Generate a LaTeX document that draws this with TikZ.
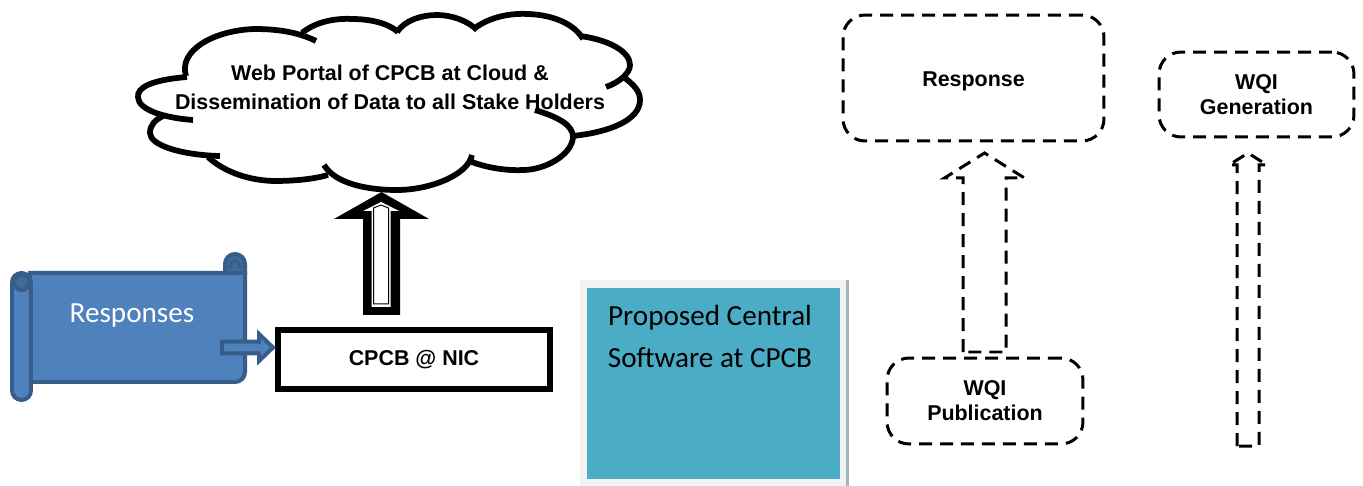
\documentclass[tikz,border=0pt]{standalone}
\usepackage{fontspec}
\setmainfont{Liberation Sans}
\newfontfamily\calibrifont{Carlito}
\usetikzlibrary{calc,positioning}
\definecolor{scrollblue}{HTML}{4F81BD}
\definecolor{scrolledge}{HTML}{385D8A}
\definecolor{scrolldark}{HTML}{41699B}
\definecolor{softwareteal}{HTML}{4BACC6}
\definecolor{softwarepale}{HTML}{F2F2F2}
\definecolor{softwareedge}{HTML}{9DB7BD}

% from, to, half shaft, half head, head length
\newcommand{\blockarrow}[6][]{%
  \coordinate (neck) at ($(#3)!#6!(#2)$);
  \path[#1] ($(#2)!#4!90:(#3)$) -- ($(neck)!#4!90:(#3)$) -- ($(neck)!#5!90:(#3)$) -- (#3)
    -- ($(neck)!#5!-90:(#3)$) -- ($(neck)!#4!-90:(#3)$) -- ($(#2)!#4!-90:(#3)$) -- cycle;
}

\tikzset{
  cloudline/.style={draw=black, line width=0.115cm, line cap=butt},
  boldtext/.style={font=\fontsize{12.2}{14.2}\selectfont\bfseries, align=center},
  scrollline/.style={draw=scrolledge, line width=0.08cm},
  nicbox/.style={draw=black, line width=0.12cm, fill=white, minimum width=5.44cm, minimum height=1.2cm, inner sep=0pt},
  dashbox/.style={draw=black, line width=0.06cm, dash pattern=on 0.26cm off 0.16cm, rounded corners=0.44cm, inner sep=0pt},
  dasharrow/.style={draw=black, line width=0.06cm, dash pattern=on 0.26cm off 0.16cm},
  tealbox/.style={fill=softwareteal, draw=softwarepale, line width=0.15cm, minimum width=5.2cm, minimum height=3.98cm, inner sep=0pt}
}

\begin{document}
\begin{tikzpicture}[x=0.02cm, y=-0.02cm]
  \useasboundingbox (0,0) rectangle (1363,486);

  % Cloud puffs
  \draw[cloudline] (187,77) .. controls (150,80) and (137,88) .. (138,97) .. controls (138,110) and (165,118) .. (193,120);
  \draw[cloudline] (186,76) .. controls (178,50) and (215,30) .. (255,29) .. controls (280,29) and (300,33) .. (316,41);
  \draw[cloudline] (302,33) .. controls (315,22) and (335,18) .. (352,19) .. controls (370,19) and (388,23) .. (398,32);
  \draw[cloudline] (397,32) .. controls (405,20) and (422,15) .. (437,15) .. controls (452,15) and (468,21) .. (477,30);
  \draw[cloudline] (475,28) .. controls (490,17) and (510,13) .. (528,14) .. controls (555,15) and (575,25) .. (583,39);
  \draw[cloudline] (580,36) .. controls (610,40) and (630,52) .. (630,65) .. controls (630,73) and (620,82) .. (606,87);
  \draw[cloudline] (622,76) .. controls (635,85) and (640,92) .. (640,100) .. controls (640,120) and (610,132) .. (573,136);
  \draw[cloudline] (535,110) .. controls (558,117) and (573,125) .. (573,137) .. controls (572,155) and (545,170) .. (523,170) .. controls (505,171) and (485,167) .. (472,162);
  \draw[cloudline] (472,155) .. controls (468,175) and (430,190) .. (397,190) .. controls (365,190) and (335,183) .. (324,165);
  \draw[cloudline] (328,175) .. controls (310,180) and (290,181) .. (273,181) .. controls (245,180) and (222,170) .. (208,157);
  \draw[cloudline] (220,156) .. controls (180,155) and (150,145) .. (150,133) .. controls (150,125) and (155,120) .. (163,116);

  % Scroll
  \draw[scrollline, fill=scrolldark, rounded corners=0.2cm] (225,254) rectangle (245,285);
  \path[scrollline, fill=scrollblue] (30,273) -- (245,273) [rounded corners=0.2cm] -- (245,382) [sharp corners] -- (30,382) -- cycle;
  \draw[scrollline, fill=scrollblue, rounded corners=0.19cm] (12,273) rectangle (31,400);
  \draw[scrollline, fill=scrolldark] (22,282) circle[radius=8];
  \draw[draw=scrolledge, line width=0.06cm] (230,269) .. controls (230,258) and (240,258) .. (240,269);

  % Define nodes
  \node[text=white, font=\calibrifont\fontsize{16.6}{19}\selectfont] (responses) at (132,315) {Responses};
  \node[nicbox, boldtext] (nic) at (414,359.5) {CPCB @ NIC};
  \node[boldtext, font=\fontsize{12.2}{16.4}\selectfont\bfseries] (portal) at (390,87) {Web Portal of CPCB at Cloud \&\\Dissemination of Data to all Stake Holders};
  \node[tealbox] (central) at (713.5,383.5) {};
  \node[below=0.37cm of central.north, xshift=-0.07cm, font=\calibrifont\fontsize{16.6}{23.8}\selectfont, align=center] (centrallabel) {Proposed Central\\Software at CPCB};
  \node[dashbox, boldtext, text height=0.44cm, minimum width=5.22cm, minimum height=2.52cm] (response) at (973.5,78) {Response};
  \node[dashbox, boldtext, minimum width=3.9cm, minimum height=1.7cm] (generation) at (1256.5,94.5) {WQI\\Generation};
  \node[dashbox, boldtext, minimum width=3.92cm, minimum height=1.72cm] (publication) at (985,401) {WQI\\Publication};

  \draw[softwareedge, line width=0.06cm] (central.north east) ++(0.03,0.04) coordinate (edgetop) -- (edgetop |- 0,486);

  % Connect the nodes
  \coordinate (scrollout) at (222,347.5);
  \coordinate (nicin) at (273,347.5);
  \coordinate (cloudfrom) at (381.5,315);
  \coordinate (cloudto) at (381.5,192);
  \coordinate (whitefrom) at (381,307);
  \coordinate (whiteto) at (381,202);
  \coordinate (corefrom) at (381,304);
  \coordinate (coreto) at (381,205);
  \coordinate (publicationout) at (984.5,352);
  \coordinate (responsein) at (984.5,153);
  \coordinate (generationfrom) at (1248,446);
  \coordinate (generationin) at (1248,153);

  \blockarrow[scrollline, fill=scrollblue]{scrollout}{nicin}{0.12cm}{0.27cm}{0.28cm}
  \blockarrow[fill=black]{cloudfrom}{cloudto}{0.37cm}{0.95cm}{0.54cm}
  \blockarrow[fill=white]{whitefrom}{whiteto}{0.19cm}{0.36cm}{0.18cm}
  \blockarrow[draw=black, line width=0.02cm]{corefrom}{coreto}{0.15cm}{0.15cm}{0.06cm}
  \blockarrow[dasharrow]{publicationout}{responsein}{0.43cm}{0.8cm}{0.5cm}
  \blockarrow[dasharrow]{generationfrom}{generationin}{0.22cm}{0.38cm}{0.24cm}

\end{tikzpicture}
\end{document}
